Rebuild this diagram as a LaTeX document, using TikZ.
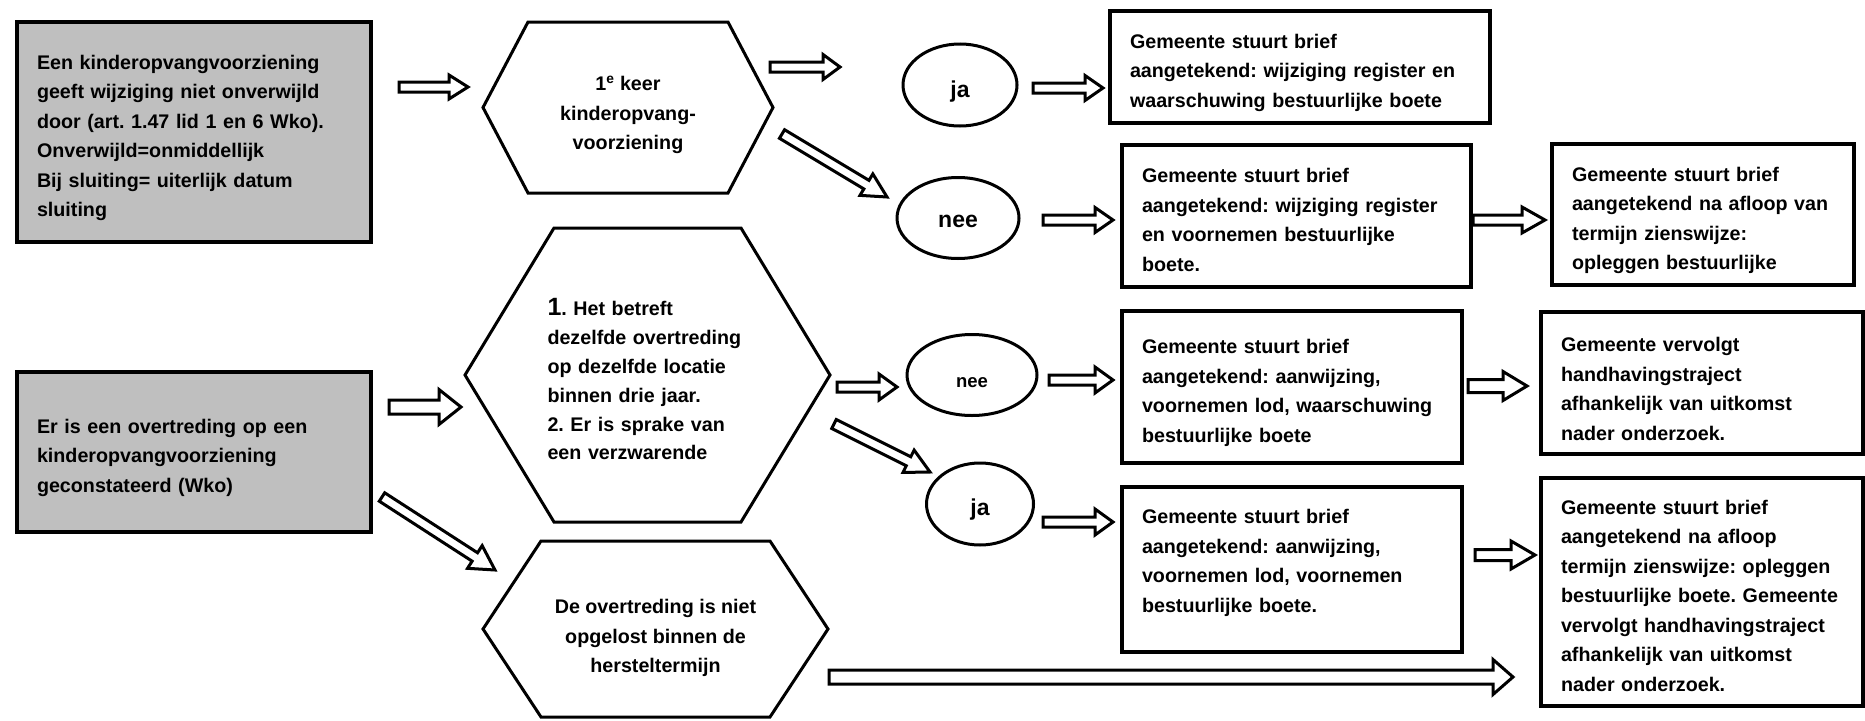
\documentclass[tikz,border=0pt]{standalone}
\usepackage{fontspec}
\setmainfont{Liberation Sans}
\usetikzlibrary{calc,shapes.geometric}
\definecolor{boxgray}{RGB}{191,191,191}
\frenchspacing
\newcommand\tstrut[1]{\rule{0pt}{#1pt}}
\tikzset{
  txt/.style={font=\fontsize{19.7}{29.5}\selectfont\bfseries},
  tbox/.style={txt, draw=black, line width=3.5pt, fill=white, rectangle, anchor=north west,
    inner xsep=20pt, inner ysep=0pt, outer sep=0pt, align=left},
  gbox/.style={tbox, fill=boxgray},
  hexnode/.style={txt, rectangle, inner sep=0pt, outer sep=0pt},
  hexline/.style={draw=black, line width=3pt, line join=miter},
  oval/.style={ellipse, draw=black, line width=3pt, inner sep=0pt, outer sep=0pt, fill=white},
  blockarr/.style={draw=black, fill=white, line width=3pt, line join=miter},
}
\newcommand\blockarrow[5]{%
  \coordinate (ba-b) at ($(#2)!#5pt!(#1)$);
  \draw[blockarr] ($(#1)!#3pt!90:(#2)$) -- ($(ba-b)!#3pt!90:(#2)$) -- ($(ba-b)!#4pt!90:(#2)$)
    -- (#2) -- ($(ba-b)!#4pt!-90:(#2)$) -- ($(ba-b)!#3pt!-90:(#2)$) -- ($(#1)!#3pt!-90:(#2)$) -- cycle;
}
\begin{document}
\begin{tikzpicture}[x=1pt,y=-1pt]
\useasboundingbox (0,0) rectangle (1865,720);
\fill[white] (0,0) rectangle (1865,720);

% left gray boxes
\node[gbox, minimum width=354pt, minimum height=220pt, text width=314pt] (b1) at (17,22)
  {\tstrut{26}Een kinderopvangvoorziening\\geeft wijziging niet onverwijld\\door (art. 1.47 lid 1 en 6 Wko).\\Onverwijld=onmiddellijk\\Bij sluiting= uiterlijk datum\\sluiting};
\node[gbox, minimum width=354pt, minimum height=160pt, text width=314pt] (b2) at (17,372)
  {\tstrut{26}Er is een overtreding op een\\kinderopvangvoorziening\\geconstateerd (Wko)};

% hexagons
\node[hexnode, align=center, minimum width=290pt, minimum height=171pt] (h1) at (628,107.5)
  {\tstrut{30}1\textsuperscript{e} keer\\kinderopvang-\\voorziening};
\draw[hexline] (h1.west) -- ([xshift=45pt]h1.north west) -- ([xshift=-45pt]h1.north east) -- (h1.east)
  -- ([xshift=-45pt]h1.south east) -- ([xshift=45pt]h1.south west) -- cycle;

\node[hexnode, align=left, text width=200pt, minimum width=365pt, minimum height=294pt,
      font=\fontsize{19.7}{28.8}\selectfont\bfseries] (h2) at (647.5,375)
  {\tstrut{26}{\fontsize{25}{28.8}\selectfont 1}. Het betreft\\dezelfde overtreding\\op dezelfde locatie\\binnen drie jaar.\\2. Er is sprake van\\een verzwarende};
\draw[hexline] (h2.west) -- ([xshift=89pt]h2.north west) -- ([xshift=-89pt]h2.north east) -- (h2.east)
  -- ([xshift=-89pt]h2.south east) -- ([xshift=89pt]h2.south west) -- cycle;

\node[hexnode, align=center, minimum width=345pt, minimum height=176pt] (h3) at (655.5,629)
  {\tstrut{33}De overtreding is niet\\opgelost binnen de\\hersteltermijn};
\draw[hexline] (h3.west) -- ([xshift=58pt]h3.north west) -- ([xshift=-58pt]h3.north east) -- (h3.east)
  -- ([xshift=-58pt]h3.south east) -- ([xshift=58pt]h3.south west) -- cycle;

% ellipses
\node[oval, minimum width=114pt, minimum height=82pt, font=\fontsize{23}{26}\selectfont\bfseries] (ja1) at (960,85) {\tstrut{29}ja};
\node[oval, minimum width=122pt, minimum height=81pt, font=\fontsize{23}{26}\selectfont\bfseries] (nee1) at (958,218) {\tstrut{19}nee};
\node[oval, minimum width=130pt, minimum height=81pt, font=\fontsize{18.5}{22}\selectfont\bfseries] (nee2) at (972,375) {\tstrut{25}nee};
\node[oval, minimum width=107pt, minimum height=82pt, font=\fontsize{23}{26}\selectfont\bfseries] (ja2) at (980,504) {\tstrut{27}ja};

% right boxes
\node[tbox, minimum width=380pt, minimum height=112pt, text width=340pt] (r1) at (1110,11)
  {\tstrut{26}Gemeente stuurt brief\\aangetekend: wijziging register en\\waarschuwing bestuurlijke boete};
\node[tbox, minimum width=349pt, minimum height=142pt, text width=309pt] (r2) at (1122,145)
  {\tstrut{22}Gemeente stuurt brief\\aangetekend: wijziging register\\en voornemen bestuurlijke\\boete.};
\node[tbox, minimum width=302pt, minimum height=141pt, text width=262pt] (r3) at (1552,144)
  {\tstrut{26}Gemeente stuurt brief\\aangetekend na afloop van\\termijn zienswijze:\\opleggen bestuurlijke};
\node[tbox, minimum width=340pt, minimum height=152pt, text width=300pt] (r4) at (1122,311)
  {\tstrut{26}Gemeente stuurt brief\\aangetekend: aanwijzing,\\voornemen lod, waarschuwing\\bestuurlijke boete};
\node[tbox, minimum width=322pt, minimum height=142pt, text width=282pt] (r5) at (1541,312)
  {\tstrut{26}Gemeente vervolgt\\handhavingstraject\\afhankelijk van uitkomst\\nader onderzoek.};
\node[tbox, minimum width=340pt, minimum height=165pt, text width=300pt] (r6) at (1122,487)
  {\tstrut{26}Gemeente stuurt brief\\aangetekend: aanwijzing,\\voornemen lod, voornemen\\bestuurlijke boete.\\\mbox{}};
\node[tbox, minimum width=322pt, minimum height=228pt, text width=282pt] (r7) at (1541,478)
  {\tstrut{22}Gemeente stuurt brief\\aangetekend na afloop\\termijn zienswijze: opleggen\\\mbox{bestuurlijke boete. Gemeente}\\vervolgt handhavingstraject\\afhankelijk van uitkomst\\nader onderzoek.};

% arrow end points
\coordinate (a1t) at (399,87);   \coordinate (a1h) at (468,87);
\coordinate (a2t) at (770,67);   \coordinate (a2h) at (840,67);
\coordinate (d1t) at (782,134);  \coordinate (d1h) at (887,197);
\coordinate (a3t) at (1033,88);  \coordinate (a3h) at (1103,88);
\coordinate (a4t) at (1043,220); \coordinate (a4h) at (1113,220);
\coordinate (a5t) at (1473,220); \coordinate (a5h) at (1545,220);
\coordinate (a6t) at (389,407);  \coordinate (a6h) at (461,407);
\coordinate (a7t) at (837,387);  \coordinate (a7h) at (897,387);
\coordinate (d2t) at (834,424);  \coordinate (d2h) at (930,472);
\coordinate (a8t) at (1049,380); \coordinate (a8h) at (1113,380);
\coordinate (a9t) at (1043,522); \coordinate (a9h) at (1113,522);
\coordinate (a10t) at (1468,386); \coordinate (a10h) at (1527,386);
\coordinate (a11t) at (1475,555); \coordinate (a11h) at (1535,555);
\coordinate (d3t) at (382,497);  \coordinate (d3h) at (495,570);
\coordinate (a12t) at (829,677); \coordinate (a12h) at (1513,677);

\blockarrow{a1t}{a1h}{5}{12}{19}
\blockarrow{a2t}{a2h}{5}{12.5}{17}
\blockarrow{d1t}{d1h}{5}{12.5}{24}
\blockarrow{a3t}{a3h}{5}{12.5}{18}
\blockarrow{a4t}{a4h}{5}{12.5}{18}
\blockarrow{a5t}{a5h}{5}{13}{23}
\blockarrow{a6t}{a6h}{7}{17.5}{22}
\blockarrow{a7t}{a7h}{5}{13}{18}
\blockarrow{d2t}{d2h}{5}{12.5}{24}
\blockarrow{a8t}{a8h}{5}{13}{18}
\blockarrow{a9t}{a9h}{5}{13}{18}
\blockarrow{a10t}{a10h}{6.5}{14.5}{24}
\blockarrow{a11t}{a11h}{5.5}{14}{24}
\blockarrow{d3t}{d3h}{5}{13.5}{24}
\blockarrow{a12t}{a12h}{7}{17.5}{20}
\end{tikzpicture}
\end{document}
